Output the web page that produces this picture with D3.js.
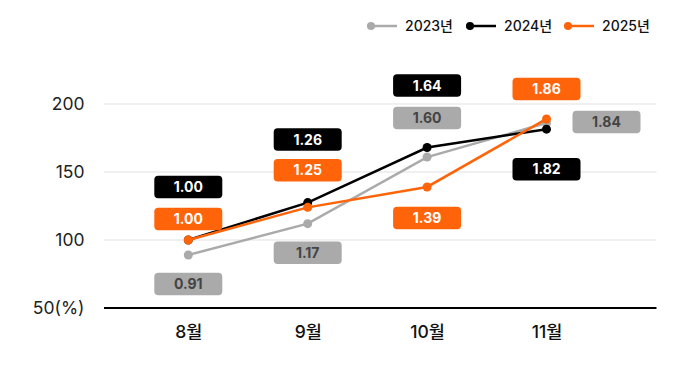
<!DOCTYPE html>
<html><head><meta charset="utf-8">
<script src="https://cdn.jsdelivr.net/npm/d3@7/dist/d3.min.js"></script>
<style>
html,body{margin:0;padding:0;background:#fff;}
svg{display:block;font-family:"Inter","Noto Sans CJK KR",sans-serif;}
</style></head>
<body><svg id="c" width="689" height="373"></svg>
<script>
const months = ["8월","9월","10월","11월"];
const seriesNames = ["2023년","2024년","2025년"];
const values2023 = [89, 112, 161, 186];
const values2024 = [100, 127.5, 168, 181.5];
const values2025 = [100, 124, 139, 189];
const labels2023 = ["0.91","1.17","1.60","1.84"];
const labels2024 = ["1.00","1.26","1.64","1.82"];
const labels2025 = ["1.00","1.25","1.39","1.86"];
const yTicks = [50, 100, 150, 200];
const yTickLabels = ["50(%)","100","150","200"];

// layout / style (not data)
const FONT = "Inter, 'Noto Sans CJK KR', sans-serif";
const colors = ["#aaaaaa","#000000","#ff640a"];
const labelText = ["#444444","#ffffff","#ffffff"];
const labelOffsets = [
  [[0,29],[0,29],[0,-39],[60,-1]],
  [[0,-53],[0,-63],[0,-62],[0,40]],
  [[0,-21],[0,-37],[0,31],[0,-30]]
];

const svg = d3.select("#c");
const plotL = 104, plotR = 656.5;
const x = d3.scalePoint().domain(months).range([188.3, 546.5]);
const y = d3.scaleLinear().domain([50,200]).range([308,104]);

// grid
svg.append("g").selectAll("line").data(yTicks.filter(t=>t>50)).join("line")
  .attr("x1",plotL).attr("x2",plotR)
  .attr("y1",d=>y(d)).attr("y2",d=>y(d))
  .attr("stroke","#ebebeb").attr("stroke-width",1.5);

// y axis labels
const yAxis = d3.axisLeft(y).tickValues(yTicks).tickSize(0).tickPadding(0)
  .tickFormat((d,i)=>yTickLabels[i]);
const ya = svg.append("g").attr("transform",`translate(84.5,0)`).call(yAxis);
ya.select(".domain").remove();
ya.selectAll("text").attr("font-size",17.5).attr("fill","#222").attr("font-family",FONT);

// x axis
const xAxis = d3.axisBottom(x).tickSize(0);
const xa = svg.append("g").attr("transform",`translate(0,308)`).call(xAxis);
xa.select(".domain").remove();
xa.selectAll("text").attr("y",30.3).attr("dy",null).attr("font-size",17.5).attr("font-weight",500).attr("fill","#111")
  .attr("font-family",FONT);
svg.append("line").attr("x1",plotL).attr("x2",plotR).attr("y1",y(50)).attr("y2",y(50))
  .attr("stroke","#000").attr("stroke-width",2);

const allValues = [values2023, values2024, values2025];
const allLabels = [labels2023, labels2024, labels2025];

const line = d3.line().x((d,i)=>x(months[i])).y(d=>y(d));
allValues.forEach((vals,s)=>{
  const g = svg.append("g");
  g.append("path").datum(vals).attr("d",line).attr("fill","none")
    .attr("stroke",colors[s]).attr("stroke-width",2.5);
  g.selectAll("circle").data(vals).join("circle")
    .attr("cx",(d,i)=>x(months[i])).attr("cy",d=>y(d)).attr("r",4.5).attr("fill",colors[s]);
});

// labels
const bw = 68, bh = 22.5;
allValues.forEach((vals,s)=>{
  const g = svg.append("g");
  vals.forEach((v,i)=>{
    const cx = x(months[i]) + labelOffsets[s][i][0];
    const cy = y(v) + labelOffsets[s][i][1];
    g.append("rect").attr("x",cx-bw/2).attr("y",cy-bh/2).attr("width",bw).attr("height",bh)
      .attr("rx",4).attr("fill",colors[s]);
    g.append("text").attr("x",cx).attr("y",cy).attr("dy","0.36em").attr("text-anchor","middle")
      .attr("font-size",14).attr("font-weight",700).attr("fill",labelText[s]).text(allLabels[s][i]);
  });
});

// legend
const legX = [367, 466, 564];
const lg = svg.append("g");
seriesNames.forEach((n,s)=>{
  const lx = legX[s];
  lg.append("line").attr("x1",lx).attr("x2",lx+30).attr("y1",26).attr("y2",26)
    .attr("stroke",colors[s]).attr("stroke-width",2.5);
  lg.append("circle").attr("cx",lx+4).attr("cy",26).attr("r",4).attr("fill",colors[s]);
  lg.append("text").attr("x",lx+38).attr("y",26).attr("dy","0.36em")
    .attr("font-size",14).attr("font-weight",500).attr("fill","#111").text(n);
});
</script></body></html>
